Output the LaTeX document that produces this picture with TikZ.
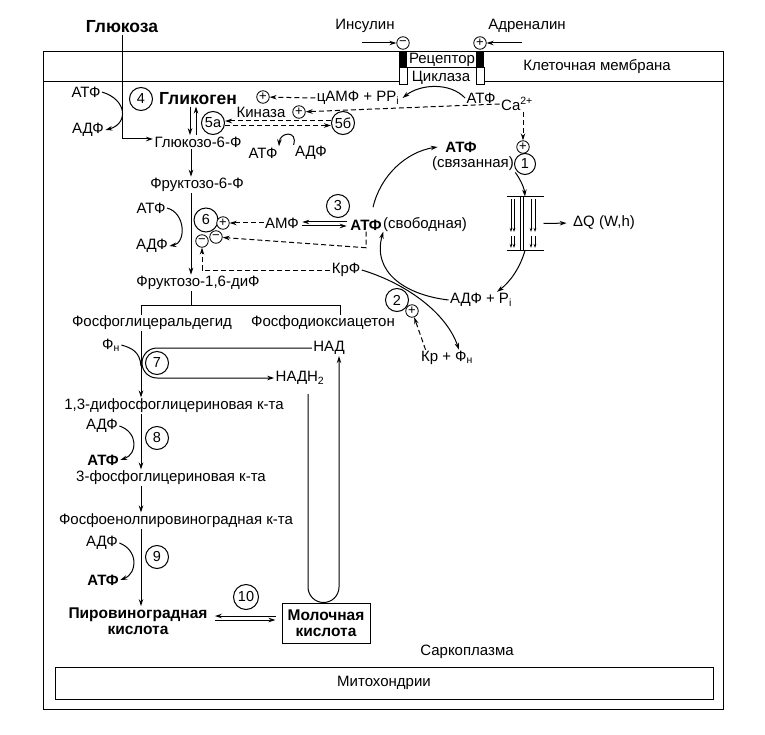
\documentclass[tikz,border=0pt]{standalone}
\usepackage{fontspec}
\setmainfont{Liberation Sans}
\usetikzlibrary{arrows.meta,positioning}

\begin{document}
\begin{tikzpicture}[x=1pt, y=-1pt, line width=1pt,
    >={Stealth[length=7pt,width=4.5pt]},
    txt/.style={inner sep=1pt, font=\fontsize{15}{16}\selectfont},
    btxt/.style={inner sep=1pt, font=\fontsize{15.5}{16}\selectfont\bfseries},
    htxt/.style={inner sep=1pt, font=\fontsize{17.5}{18}\selectfont\bfseries},
    atxt/.style={inner sep=1pt, font=\fontsize{15}{16}\selectfont\bfseries},
    enz/.style={circle, draw, fill=white, minimum size=23pt, inner sep=0pt, font=\fontsize{14.5}{14.5}\selectfont},
    sgn/.style={circle, draw, fill=white, line width=0.8pt, minimum size=12.5pt, inner sep=0pt, font=\fontsize{13}{13}\selectfont},
    reg/.style={->, dash pattern=on 5pt off 3pt},
    fil/.style={line width=0.6pt, -{Stealth[length=4pt,width=2.5pt]}}]
        \useasboundingbox (0,0) rectangle (765,735);

        % Cell, membrane, mitochondria
        \draw (43,52) rectangle (723,709);
        \draw (43,82) -- (399,82);
        \draw (484,82) -- (723,82);
        \node[txt] (memb) at (597,67) {Клеточная мембрана};
        \node[txt] (sarc) at (467,652) {Саркоплазма};
        \node[txt, draw, minimum width=658pt, minimum height=32pt] (mito) at (384,683) {Митохондрии};

        % Receptor and cyclase
        \fill (399,52) rectangle (407,68);
        \fill (476,52) rectangle (484,68);
        \draw (399,68) rectangle (407,85);
        \draw (476,68) rectangle (484,85);
        \draw (407,68) -- (476,68);
        \node[txt] (rec) at (442,60) {Рецептор};
        \node[txt] (cycl) at (441,78) {Циклаза};
        \node[txt] (ins) at (365,26) {Инсулин};
        \node[txt] (adr) at (527,26) {Адреналин};
        \node[sgn] (insm) at (403,43) {−};
        \node[sgn] (adrp) at (480,43) {+};
        \coordinate (insa) at (362,43);
        \coordinate (adra) at (522,43);
        \draw[->] (insa) -- (insm);
        \draw[->] (adra) -- (adrp);

        % Glycogen
        \node[htxt] (glc) at (122,27) {Глюкоза};
        \node[htxt] (glyc) at (198,99) {Гликоген};
        \node[enz] (e4) at (141,99) {4};
        \node[txt] (atp4) at (86,92) {АТФ};
        \node[txt] (adp4) at (88,130) {АДФ};
        \node[txt] (g6p) at (198,142) {Глюкозо-6-Ф};
        \draw[->] (glc.south) |- ([yshift=3pt]g6p.west);
        \draw[->] (atp4.east) .. controls (128,100) and (128,124) .. (adp4.east);
        \draw[->] ([xshift=-8pt]glyc.south) -- ([xshift=-8pt]glyc.south |- g6p.north);
        \draw[->] ([xshift=-2pt]glyc.south |- g6p.north) -- ([xshift=-2pt]glyc.south);

        \node[enz] (e5a) at (213,123) {5а};
        \node[enz] (e5b) at (343,123) {5б};
        \draw[reg] ([yshift=2pt]e5b.west) -- ([yshift=2pt]e5a.east);
        \draw[reg] ([yshift=-2.5pt]e5a.east) -- ([yshift=-2.5pt]e5b.west);
        \node[txt] (kin) at (261,112) {Киназа};
        \node[sgn] (kplus) at (299,112) {+};
        \node[sgn] (gplus) at (263,97) {+};
        \node[txt] (camp) at (358,98) {цАМФ + PP\textsubscript{i}};
        \node[txt] (atpc) at (481,98) {АТФ};
        \node[txt] (ca) at (517,104) {Ca\textsuperscript{2+}};
        \draw[reg] (camp.west) -- (gplus);
        \draw[reg] (ca.west) -- (kplus);
        \draw[->] (atpc.west) .. controls (450,82) and (420,84) .. ([xshift=2pt]camp.east);
        \node[txt] (atp5) at (263,153) {АТФ};
        \node[txt] (adp5) at (311,153) {АДФ};
        \draw[->] (adp5.north west) .. controls (298,130) and (280,132) .. (atp5.north east);

        % ATP cycle
        \coordinate (ctr) at (450,225);
        \node[atxt] (atpb) at (461,147) {АТФ};
        \node[txt] (bound) at (473,164) {(связанная)};
        \node[sgn] (plus1) at (523,147) {+};
        \node[enz, minimum size=21pt] (e1) at (525,164) {1};
        \draw[reg] (ca.south -| plus1) -- (plus1);
        \draw[->] (ctr) ++(193:79) arc[start angle=193, end angle=261, radius=79];

        \node[minimum width=36pt, minimum height=53pt, inner sep=0pt] (mus) at (525,223.5) {};
        \draw (mus.north west) -- (mus.north east);
        \draw (mus.south west) -- (mus.south east);
        \foreach \x in {520,523} \draw[line width=0.9pt] (\x,197) -- (\x,250);
        \foreach \x in {511,514,531,535} \draw[fil] (\x,199) -- (\x,232);
        \foreach \x in {511,514,531,535} \draw[fil] (\x,236) -- (\x,248);
        \draw[->] (bound.south east) .. controls (518,176) and (524,186) .. (mus.north);
        \node[txt] (adppi) at (481,300) {АДФ + P\textsubscript{i}};
        \draw[->] (mus.south) .. controls (520,268) and (510,282) .. ([xshift=16pt]adppi.north);
        \node[txt] (dq) at (604,223) {ΔQ (W,h)};
        \draw[->, shorten >=5pt] (mus.east) -- (dq.west);

        \node[atxt] (atpf) at (366,225) {АТФ};
        \node[txt, right=-1.5pt of atpf] (free) {(свободная)};
        \node[txt] (amp) at (282,223) {АМФ};
        \node[enz] (e3) at (338,206) {3};
        \draw[->, shorten >=2pt, shorten <=2pt] ([yshift=3pt]atpf.west) -- ([yshift=3pt]atpf.west -| amp.east);
        \draw[->, shorten >=2pt, shorten <=2pt] ([yshift=-1pt]atpf.west -| amp.east) -- ([yshift=-1pt]atpf.west);

        \node[txt] (kpf) at (346,270) {КрФ};
        \node[enz] (e2) at (397,300) {2};
        \node[sgn] (p2) at (412,311) {+};
        \node[txt] (kp) at (447,358) {Кр + Ф\textsubscript{н}};
        \draw[->] (adppi.west) .. controls (405,295) and (372,272) .. (atpf.south east);
        \draw[->] (kpf.east) .. controls (405,283) and (446,312) .. ([xshift=12pt]kp.north);
        \draw[reg] ([xshift=6pt]kp.north west) -- (p2);

        % Phosphofructokinase
        \node[txt] (f6p) at (197,185) {Фруктозо-6-Ф};
        \node[txt] (atp6) at (151,208) {АТФ};
        \node[txt] (adp6) at (152,246) {АДФ};
        \node[enz, minimum size=24pt] (e6) at (206,220) {6};
        \node[sgn] (p6) at (223,223) {+};
        \node[sgn] (m1) at (202,241) {−};
        \node[sgn] (m2) at (216,237) {−};
        \node[txt] (f16) at (198,283) {Фруктозо-1,6-диФ};
        \draw[->] (atp6.east) .. controls (186,213) and (186,243) .. (adp6.east);
        \draw[reg] (amp.west) -- (p6);
        \draw[reg] (atpf.south) -- ++(0,16) -- (m2);
        \draw[reg] (kpf.west) -| (m1);

        \coordinate (ax1) at (191,305);
        \draw[->] (g6p.south -| ax1) -- (f6p.north -| ax1);
        \draw[->] (f6p.south -| ax1) -- (f16.north -| ax1);
        \draw (f16.south -| ax1) -- (ax1);

        % Triose phosphates
        \node[txt] (pga) at (152,323) {Фосфоглицеральдегид};
        \node[txt] (dap) at (323,323) {Фосфодиоксиацетон};
        \coordinate (brl) at (141,305);
        \coordinate (brr) at (340,305);
        \draw (pga.north -| brl) -- (brl) -- (brr) -- (dap.north -| brr);

        \node[txt] (phn) at (111,345) {Ф\textsubscript{н}};
        \node[enz] (e7) at (157,363) {7};
        \node[txt] (nad) at (329,348) {НАД};
        \node[txt] (nadh) at (300,378) {НАДН\textsubscript{2}};
        \draw[->] (nad.west) -- (e7 |- nad.west) arc[start angle=270, end angle=90, radius=15] -- (nadh.west);
        \node[txt] (dpg) at (174,406) {1,3-дифосфоглицериновая к-та};
        \node[txt] (adp8) at (102,426) {АДФ};
        \node[atxt] (atp8) at (103,460) {АТФ};
        \node[enz] (e8) at (157,438) {8};
        \node[txt] (pg3) at (171,478) {3-фосфоглицериновая к-та};
        \node[txt] (pep) at (176,521) {Фосфоенолпировиноградная к-та};
        \node[txt] (adp9) at (102,543) {АДФ};
        \node[atxt] (atp9) at (103,580) {АТФ};
        \node[enz] (e9) at (157,557) {9};
        \node[btxt, align=center] (pyr) at (138,621) {Пировиноградная\\кислота};

        \coordinate (ax2) at (141,330);
        \draw[->] (pga.south -| ax2) -- (dpg.north -| ax2);
        \draw (phn.east) .. controls (132,348) and (140,352) .. (141,366);
        \draw[->] (dpg.south -| ax2) -- (pg3.north -| ax2);
        \draw[->] (adp8.east) .. controls (138,432) and (138,454) .. (atp8.east);
        \draw[->] (pg3.south -| ax2) -- (pep.north -| ax2);
        \draw[->] (pep.south -| ax2) -- (pyr.north -| ax2);
        \draw[->] (adp9.east) .. controls (138,550) and (138,573) .. (atp9.east);

        % Lactate
        \node[btxt, draw, align=center, minimum width=88pt, minimum height=40pt] (lac) at (326,623) {Молочная\\кислота};
        \node[enz, minimum size=25pt] (e10) at (246,597) {10};
        \draw[->, shorten >=6pt, shorten <=6pt] ([yshift=7pt]lac.west) -- ([yshift=7pt]lac.west -| pyr.east);
        \draw[->, shorten >=6pt, shorten <=6pt] ([yshift=3pt]lac.west -| pyr.east) -- ([yshift=3pt]lac.west);
        \coordinate (ul) at (308,587);
        \coordinate (ur) at (339,587);
        \draw[->, shorten <=8pt] (nadh.south -| ul) -- (ul) arc[start angle=180, end angle=0, radius=15.5] -- (nad.south -| ur);
    \end{tikzpicture}
\end{document}
